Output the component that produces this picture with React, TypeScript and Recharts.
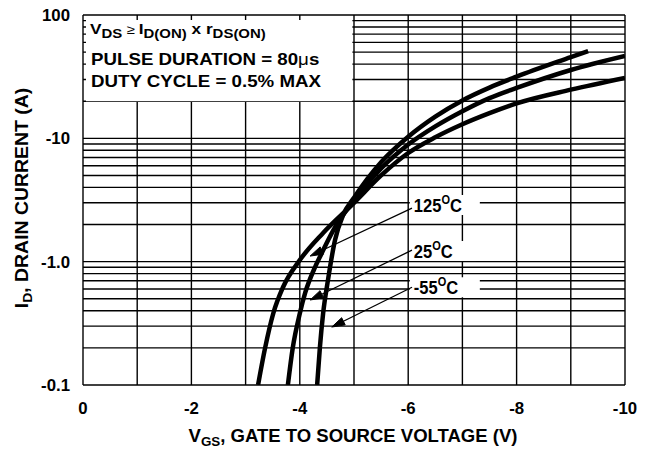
import { Line, LineChart, ReferenceArea, ReferenceDot, ReferenceLine, XAxis, YAxis } from "recharts";

const FONT = "'Liberation Sans', Arial, Helvetica, sans-serif";

// V_GS (V) against |I_D| (A)
const vgsHot = [-3.23, -3.36, -3.51, -3.69, -4.0, -4.43, -5.0, -5.5, -6.0, -6.5, -7.0, -7.5, -8.0, -9.0, -10];
const idHot = [0.1, 0.2, 0.38, 0.62, 1.03, 1.71, 3.0, 5.0, 7.6, 10.2, 13.0, 16.0, 19.2, 24.8, 30.9];

const vgsRoom = [-3.78, -3.87, -4.0, -4.1, -4.28, -4.37, -4.62, -5.0, -5.5, -6.0, -6.5, -7.0, -7.5, -8.0, -9.0, -10];
const idRoom = [0.1, 0.2, 0.38, 0.56, 0.9, 1.09, 1.8, 3.15, 5.7, 8.9, 12.5, 16.6, 21.2, 25.6, 35.8, 46.5];

const vgsCold = [-4.32, -4.37, -4.43, -4.52, -4.65, -4.8, -5.0, -5.5, -6.0, -6.5, -7.0, -7.5, -8.0, -9.0, -9.32];
const idCold = [0.1, 0.2, 0.38, 0.71, 1.5, 2.39, 3.3, 6.4, 10.3, 15.0, 20.3, 25.8, 31.6, 45.5, 51];

const xTicks = [0, -2, -4, -6, -8, -10];
const yTicks = [0.1, 1, 10, 100];
const yTickLabels = ["-0.1", "-1.0", "-10", "100"];

const xGrid = [0, -1, -2, -3, -4, -5, -6, -7, -8, -9, -10];
const yGrid = [0.1, 0.2, 0.3, 0.4, 0.5, 0.6, 0.7, 0.8, 0.9, 1, 2, 3, 4, 5, 6, 7, 8, 9, 10, 20, 30, 40, 50, 60, 70, 80, 90, 100];

// temperature callouts: label, box anchor, arrow start and arrow tip
const tempLabels = ["125", "25", "-55"];
const labelAnchors = [
  { x: -6.03, y: 2.88 },
  { x: -6.03, y: 1.22 },
  { x: -6.03, y: 0.62 },
];
const arrowFrom = [
  { x: -6.07, y: 2.72 },
  { x: -6.07, y: 1.24 },
  { x: -6.07, y: 0.62 },
];
const arrowTo = [
  { x: -4.19, y: 1.11 },
  { x: -4.19, y: 0.489 },
  { x: -4.59, y: 0.295 },
];

const toPoints = (xs: number[], ys: number[]) => xs.map((v, i) => ({ vgs: v, id: ys[i] }));
const series = [
  { name: "125C", data: toPoints(vgsHot, idHot) },
  { name: "25C", data: toPoints(vgsRoom, idRoom) },
  { name: "-55C", data: toPoints(vgsCold, idCold) },
];

const Wide = ({ x, y, size = 16, sx = 1.1, rotate = 0, anchor = "start", children }: any) => (
  <text
    transform={`translate(${x},${y})${rotate ? ` rotate(${rotate})` : ""} scale(${sx},1)`}
    fontFamily={FONT}
    fontWeight="bold"
    fontSize={size}
    textAnchor={anchor}
    fill="#000"
  >
    {children}
  </text>
);

const XTick = ({ x, y, payload }: any) => (
  <Wide x={x} y={y + 29} anchor="middle" size={16} sx={1.05}>
    {payload.value}
  </Wide>
);

const YTick = ({ x, y, payload }: any) => (
  <Wide x={x - 13} y={y + 6} anchor="end" size={16} sx={1.05}>
    {yTickLabels[yTicks.indexOf(payload.value)]}
  </Wide>
);

const Arrow = ({ x1, y1, x2, y2 }: any) => {
  const a = Math.atan2(y2 - y1, x2 - x1);
  const len = 13;
  const w = 4;
  const bx = x2 - len * Math.cos(a);
  const by = y2 - len * Math.sin(a);
  const px = -Math.sin(a) * w;
  const py = Math.cos(a) * w;
  return (
    <g>
      <line x1={x1} y1={y1} x2={bx} y2={by} stroke="#000" strokeWidth={1.3} />
      <polygon points={`${x2},${y2} ${bx + px},${by + py} ${bx - px},${by - py}`} fill="#000" stroke="#000" strokeWidth={1} />
    </g>
  );
};

const TempBox = (label: string) => ({ cx, cy }: any) => (
  <g>
    <rect x={cx} y={cy - 10} width={label.length > 2 ? 70 : 66} height={20} fill="#fff" />
    <text
      transform={`translate(${cx + 4},${cy + 7}) scale(0.92,1)`}
      fontFamily={FONT}
      fontWeight="bold"
      fontSize={18}
      fill="#000"
    >
      {label}
      <tspan fontSize={12} dy={-8}>O</tspan>
      <tspan dy={8}>C</tspan>
    </text>
  </g>
);

const Note = ({ cx, cy }: any) => (
  <g fontFamily={FONT} fontWeight="bold" fill="#000">
    <text transform={`translate(${cx + 7},${cy + 19}) scale(1.15,1)`} fontSize={15}>
      V<tspan fontSize={13} dy={4}>DS</tspan>
      <tspan dy={-4} fontWeight="normal" fontSize={13}> ≥ </tspan>I
      <tspan fontSize={13} dy={4}>D(ON)</tspan>
      <tspan dy={-4}> x r</tspan>
      <tspan fontSize={13} dy={4}>DS(ON)</tspan>
    </text>
    <text transform={`translate(${cx + 8},${cy + 50}) scale(1.17,1)`} fontSize={16}>
      PULSE DURATION = 80<tspan fontWeight="normal">μ</tspan>s
    </text>
    <text transform={`translate(${cx + 8},${cy + 72}) scale(1.17,1)`} fontSize={16}>
      DUTY CYCLE = 0.5% MAX
    </text>
  </g>
);

export default function App() {
  return (
    <div style={{ position: "absolute", left: 0, top: 0 }}>
      <LineChart width={651} height={449} margin={{ top: 15, right: 26, bottom: 0, left: 0 }}>
        <XAxis
          type="number"
          dataKey="vgs"
          domain={[-10, 0]}
          reversed
          ticks={xTicks}
          height={64}
          axisLine={false}
          tickLine={false}
          tickSize={0}
          tickMargin={0}
          tick={<XTick />}
          allowDataOverflow
        />
        <YAxis
          type="number"
          dataKey="id"
          scale="log"
          domain={[0.1, 100]}
          ticks={yTicks}
          width={83}
          axisLine={false}
          tickLine={false}
          tickSize={0}
          tickMargin={0}
          tick={<YTick />}
          allowDataOverflow
        />
        {xGrid.map((v) => (
          <ReferenceLine key={`vx${v}`} x={v} stroke="#000" strokeWidth={1.4} zIndex={-100} />
        ))}
        {yGrid.map((v) => (
          <ReferenceLine key={`hy${v}`} y={v} stroke="#000" strokeWidth={1.4} zIndex={-100} />
        ))}
        <ReferenceArea x1={-0.055} x2={-4.97} y1={20} y2={91} fill="#fff" fillOpacity={1} stroke="none" zIndex={-50} />
        {tempLabels.map((t, i) => (
          <ReferenceDot key={`box-${t}`} x={labelAnchors[i].x} y={labelAnchors[i].y} shape={TempBox(t)} zIndex={-40} />
        ))}
        {series.map((s) => (
          <Line
            key={s.name}
            data={s.data}
            dataKey="id"
            type="monotone"
            stroke="#000"
            strokeWidth={4.5}
            dot={false}
            activeDot={false}
            isAnimationActive={false}
          />
        ))}
        {tempLabels.map((t, i) => (
          <ReferenceLine key={`arrow-${t}`} segment={[arrowFrom[i], arrowTo[i]]} shape={(p: any) => <Arrow {...p} />} />
        ))}
        <ReferenceDot x={0} y={100} shape={(p: any) => <Note {...p} />} />
      </LineChart>
      <svg width={651} height={449} style={{ position: "absolute", left: 0, top: 0, pointerEvents: "none" }}>
        <Wide x={28} y={198} rotate={-90} anchor="middle" size={18} sx={1.08}>
          I<tspan fontSize={13} dy={4}>D</tspan>
          <tspan dy={-4}>, DRAIN CURRENT (A)</tspan>
        </Wide>
        <Wide x={353} y={442} anchor="middle" size={18} sx={1.03}>
          V<tspan fontSize={13} dy={4}>GS</tspan>
          <tspan dy={-4}>, GATE TO SOURCE VOLTAGE (V)</tspan>
        </Wide>
      </svg>
    </div>
  );
}
